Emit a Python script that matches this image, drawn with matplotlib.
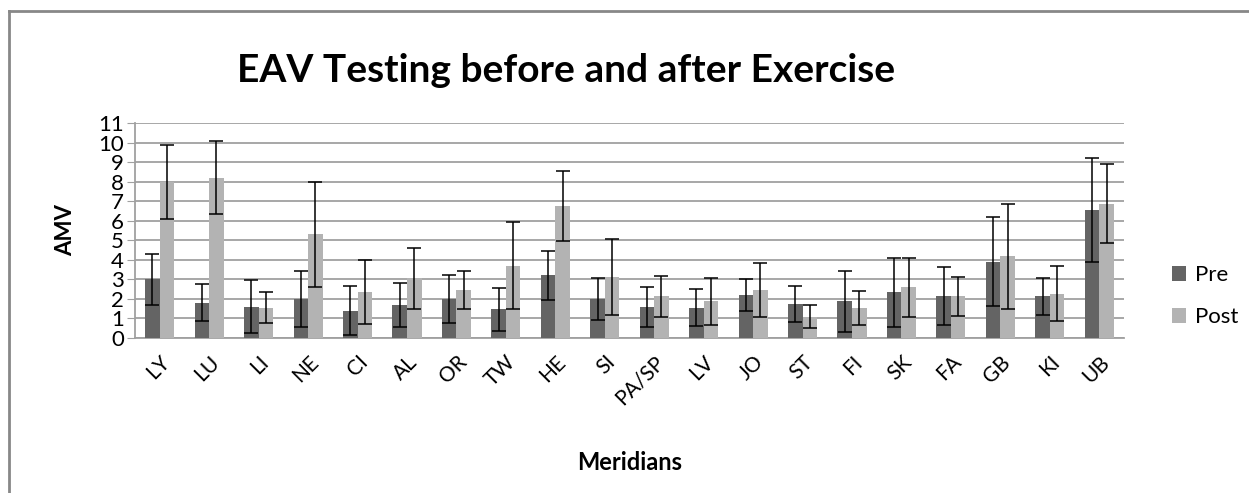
import numpy as np
import matplotlib
matplotlib.use("Agg")
import matplotlib.pyplot as plt
from matplotlib.lines import Line2D

plt.rcParams["font.family"] = ["Lato", "DejaVu Sans"]

meridians = ["LY", "LU", "LI", "NE", "CI", "AL", "OR", "TW", "HE", "SI",
             "PA/SP", "LV", "JO", "ST", "FI", "SK", "FA", "GB", "KI", "UB"]
pre = [3.0, 1.8, 1.6, 2.0, 1.4, 1.7, 2.0, 1.47, 3.2, 2.0,
       1.6, 1.55, 2.2, 1.75, 1.87, 2.33, 2.13, 3.9, 2.13, 6.55]
pre_err = [1.3, 0.95, 1.35, 1.45, 1.25, 1.12, 1.23, 1.09, 1.25, 1.06,
           1.03, 0.95, 0.82, 0.92, 1.57, 1.75, 1.49, 2.27, 0.95, 2.66]
post = [8.0, 8.2, 1.55, 5.3, 2.35, 3.05, 2.45, 3.7, 6.75, 3.13,
        2.14, 1.88, 2.46, 1.08, 1.54, 2.6, 2.14, 4.17, 2.27, 6.88]
post_err = [1.9, 1.88, 0.8, 2.7, 1.65, 1.56, 0.98, 2.24, 1.81, 1.93,
            1.05, 1.19, 1.37, 0.59, 0.85, 1.5, 1.0, 2.7, 1.41, 2.0]

W, H = 1249, 493
fig = plt.figure(figsize=(W / 100, H / 100), dpi=100)
ax = fig.add_axes([135 / W, 1 - 338 / H, (1124 - 135) / W, (338 - 123) / H])

x = np.arange(len(meridians))
bw = 0.294
err_kw = dict(ecolor="black", elinewidth=1.1, capsize=5, capthick=1.1)
ax.bar(x - bw / 2, pre, bw, yerr=pre_err, color="#646464", label="Pre",
       error_kw=err_kw, zorder=3)
ax.bar(x + bw / 2, post, bw, yerr=post_err, color="#b3b3b3", label="Post",
       error_kw=err_kw, zorder=3)

ax.set_xlim(-0.5, len(meridians) - 0.5)
ax.set_ylim(0, 11)
ax.set_yticks(range(0, 12))
ax.tick_params(axis="y", labelsize=16, length=6, color="#a0a0a0", pad=2)
ax.set_xticks(x)
ax.set_xticklabels(meridians, rotation=45, ha="right", va="top",
                   rotation_mode="anchor", fontsize=15)
ax.tick_params(axis="x", length=0, pad=10)
ax.grid(axis="y", color="#a0a0a0", linewidth=1.3, zorder=0)
for side in ["top", "right"]:
    ax.spines[side].set_visible(False)
for side in ["left", "bottom"]:
    ax.spines[side].set_color("#a0a0a0")
    ax.spines[side].set_linewidth(1.3)

ax.set_ylabel("AMV", fontsize=16, fontweight="bold", labelpad=16)
ax.set_xlabel("Meridians", fontsize=17, fontweight="bold")
ax.xaxis.set_label_coords(0.5, -(451 - 338) / (338 - 123))

fig.text(566 / W, 1 - 82 / H, "EAV Testing before and after Exercise",
         fontsize=28, fontweight="bold", ha="center", va="baseline")

ax.legend(loc="center left", bbox_to_anchor=(1163 / W, 1 - 296 / H),
          bbox_transform=fig.transFigure, frameon=False, fontsize=16,
          handlelength=0.65, handleheight=0.65, handletextpad=0.4,
          labelspacing=1.0, borderaxespad=0)

# chart border (left and top edges only visible)
fig.add_artist(Line2D([9 / W, 9 / W], [0, 1 - 11 / H], color="#888888",
                      linewidth=2, transform=fig.transFigure))
fig.add_artist(Line2D([9 / W, 1], [1 - 11 / H, 1 - 11 / H], color="#888888",
                      linewidth=2, transform=fig.transFigure))

fig.savefig("out.png", dpi=100)
